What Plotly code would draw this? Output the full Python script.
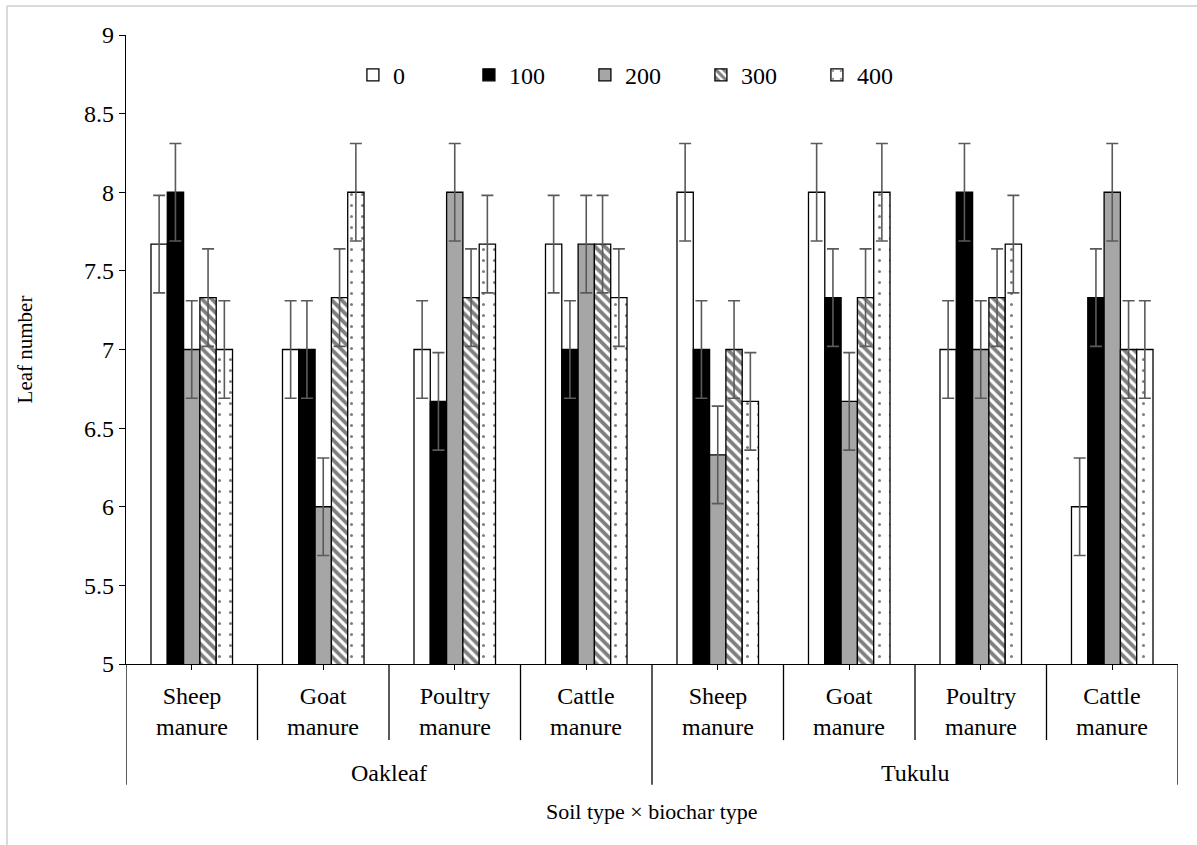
import plotly.graph_objects as go

soils = ["Oakleaf", "Tukulu"]
manures = ["Sheep<br>manure", "Goat<br>manure", "Poultry<br>manure", "Cattle<br>manure"]
doses = ["0", "100", "200", "300", "400"]

# values per dose, in category order: Oakleaf (Sheep, Goat, Poultry, Cattle), Tukulu (Sheep, Goat, Poultry, Cattle)
v0   = [7.67, 7.0, 7.0, 7.67, 8.0, 8.0, 7.0, 6.0]
v100 = [8.0, 7.0, 6.67, 7.0, 7.0, 7.33, 8.0, 7.33]
v200 = [7.0, 6.0, 8.0, 7.67, 6.33, 6.67, 7.0, 8.0]
v300 = [7.33, 7.33, 7.33, 7.67, 7.0, 7.33, 7.33, 7.0]
v400 = [7.0, 8.0, 7.67, 7.33, 6.67, 8.0, 7.67, 7.0]
err = [0.31] * 8

series = [v0, v100, v200, v300, v400]
n_cat = len(soils) * len(manures)
xpos = list(range(n_cat))

styles = [
    dict(color="white", pattern=dict(shape="")),
    dict(color="black", pattern=dict(shape="")),
    dict(color="#a6a6a6", pattern=dict(shape="")),
    dict(color="white", pattern=dict(shape="\\", fgcolor="black", bgcolor="white", size=7, solidity=0.55, fillmode="overlay")),
    dict(color="white", pattern=dict(shape=".", fgcolor="black", bgcolor="white", size=11, solidity=0.06, fillmode="overlay")),
]

fig = go.Figure()
for name, vals, st in zip(doses, series, styles):
    fig.add_trace(go.Bar(
        x=xpos, y=vals, name=name,
        marker=dict(color=st["color"], pattern=st["pattern"], line=dict(color="black", width=1.3)),
        error_y=dict(type="data", array=err, visible=True, color="#5a5a5a", thickness=1.6, width=6),
    ))

FONT = "Liberation Serif"

annotations = []
for i in range(n_cat):
    annotations.append(dict(
        x=i, y=-0.075, xref="x", yref="paper", text=manures[i % len(manures)],
        showarrow=False, font=dict(family=FONT, size=24, color="black"),
        xanchor="center", yanchor="middle", align="center"))
for j, s in enumerate(soils):
    annotations.append(dict(
        x=j * len(manures) + (len(manures) - 1) / 2, y=-0.174, xref="x", yref="paper", text=s,
        showarrow=False, font=dict(family=FONT, size=24, color="black"),
        xanchor="center", yanchor="middle"))
annotations.append(dict(x=0.5, y=-0.235, xref="paper", yref="paper", text="Soil type × biochar type",
                        showarrow=False, font=dict(family=FONT, size=22, color="black"),
                        xanchor="center", yanchor="middle"))

shapes = []
for k in range(n_cat + 1):
    xb = k - 0.5
    long_line = (k % len(manures) == 0)
    shapes.append(dict(type="line", xref="x", yref="paper", x0=xb, x1=xb, y0=0,
                       y1=-0.192 if long_line else -0.121,
                       line=dict(color="black", width=1.3)))
# outer light frame
shapes.append(dict(type="line", xref="paper", yref="paper", x0=-0.1131, x1=1.1, y0=1.0461, y1=1.0461,
                   line=dict(color="#d9d9d9", width=2)))
shapes.append(dict(type="line", xref="paper", yref="paper", x0=-0.1131, x1=-0.1131, y0=1.0461, y1=-0.35,
                   line=dict(color="#d9d9d9", width=2)))

fig.update_layout(
    width=1197, height=845,
    margin=dict(l=126, r=19, t=35, b=181, autoexpand=False),
    paper_bgcolor="white", plot_bgcolor="white",
    barmode="group", bargap=0.38, bargroupgap=0,
    font=dict(family=FONT, color="black"),
    showlegend=True,
    legend=dict(orientation="h", x=0.2157, y=0.936, xanchor="left", yanchor="middle",
                font=dict(family=FONT, size=24, color="black"),
                entrywidth=71, entrywidthmode="pixels", bgcolor="rgba(0,0,0,0)",
                traceorder="normal"),
    xaxis=dict(range=[-0.5, n_cat - 0.5], tickvals=xpos, showticklabels=False,
               ticks="outside", ticklen=5, tickcolor="black", tickwidth=1.3,
               showline=True, linecolor="black", linewidth=1.3, showgrid=False, zeroline=False),
    yaxis=dict(range=[5, 9], dtick=0.5, tick0=5, ticks="outside", ticklen=6, tickcolor="black", tickwidth=1.3,
               showline=True, linecolor="black", linewidth=1.3, showgrid=False, zeroline=False,
               tickfont=dict(family=FONT, size=24, color="black"),
               title=dict(text="Leaf number", font=dict(family=FONT, size=21), standoff=45)),
    annotations=annotations,
    shapes=shapes,
)

fig.write_html("out.html")
